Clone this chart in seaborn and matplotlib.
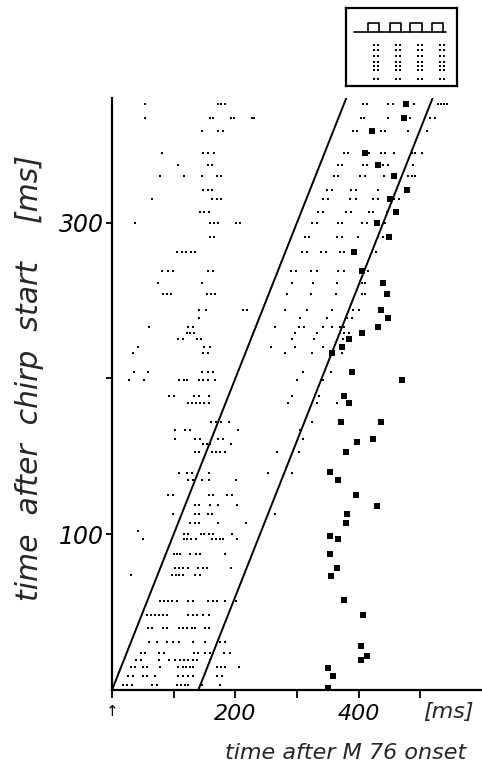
import numpy as np
import pandas as pd
import matplotlib
matplotlib.use("Agg")
import matplotlib.pyplot as plt
import seaborn as sns

# ---------------- data (ms) ----------------
row_times = [376, 367, 359, 345, 337, 330, 321, 315, 307, 300, 291, 281, 269, 261,
             254, 244, 239, 233, 229, 225, 220, 216, 204, 199, 189, 184, 172, 167,
             161, 158, 153, 139, 135, 125, 119, 113, 107, 102, 100, 97, 87, 78, 74,
             57, 48, 40, 31, 24, 19, 15, 9, 3]
row_spikes = [
    [53, 172, 177, 183, 407, 413, 447, 455, 489, 528, 533, 538, 543],
    [53, 159, 164, 193, 198, 227, 230, 403, 408, 447, 484, 515, 523],
    [146, 172, 180, 390, 398, 436, 442, 480, 510],
    [81, 147, 156, 165, 376, 382, 416, 436, 442, 457, 486, 492, 502],
    [107, 156, 162, 366, 373, 407, 413, 439, 447, 488],
    [78, 117, 146, 170, 177, 360, 366, 402, 410, 441, 480, 486, 491],
    [147, 156, 162, 348, 356, 387, 395, 431],
    [65, 162, 170, 177, 342, 350, 386, 395, 423, 431, 458, 465],
    [143, 149, 157, 334, 342, 379, 387, 416, 423, 446],
    [37, 159, 165, 172, 201, 207, 324, 332, 366, 373, 405, 413, 442],
    [159, 165, 313, 319, 365, 373, 399, 431, 439],
    [105, 113, 120, 128, 134, 308, 316, 339, 347, 369, 376, 421, 428],
    [81, 91, 99, 156, 164, 290, 298, 322, 332, 366, 377, 415],
    [75, 146, 292, 326, 365, 405, 410],
    [83, 89, 96, 154, 160, 167, 284, 322, 363, 405, 410],
    [141, 152, 212, 219, 280, 316, 356, 390, 400],
    [141, 305, 348, 381, 389],
    [60, 123, 131, 264, 303, 311, 342, 356, 369, 377],
    [122, 126, 133, 296, 332, 369, 377, 384],
    [107, 115, 138, 144, 292, 327, 374],
    [42, 149, 159, 258, 296, 342, 377],
    [34, 147, 156, 280, 324, 373],
    [36, 58, 146, 156, 164, 309, 355],
    [28, 52, 109, 117, 122, 141, 147, 156, 167, 300, 342],
    [92, 100, 133, 141, 157, 292, 335],
    [123, 130, 136, 143, 149, 157, 285, 332, 365],
    [160, 168, 177, 190, 324],
    [102, 118, 126, 204, 305],
    [102, 134, 143, 172, 180, 309],
    [147, 154, 159, 193],
    [134, 141, 162, 168, 175, 183, 267, 303],
    [109, 122, 130, 157, 253, 292],
    [123, 131, 146, 157, 201],
    [91, 99, 157, 164, 186, 194],
    [134, 141, 159, 172, 203],
    [99, 134, 141, 156, 162, 264],
    [126, 134, 141, 172, 217],
    [42],
    [117, 123, 144, 149, 157, 164, 194],
    [50, 117, 122, 128, 136, 162, 168, 175, 180, 203],
    [100, 105, 110, 126, 136, 143, 183],
    [102, 109, 115, 123, 139, 147, 154, 193],
    [31, 97, 104, 109, 115, 134, 143],
    [78, 84, 91, 97, 105, 123, 131, 156, 164, 170, 183, 201],
    [57, 63, 70, 76, 83, 89, 123, 131, 138, 147, 157],
    [58, 65, 83, 89, 109, 115, 122, 130, 134, 151, 157],
    [60, 73, 89, 99, 109, 131, 151, 175, 183],
    [47, 53, 76, 84, 133, 139, 151, 159, 181, 191],
    [39, 47, 76, 92, 102, 110, 117, 123, 131, 138, 159],
    [31, 37, 50, 57, 78, 107, 115, 120, 126, 131, 170, 177, 183, 206],
    [26, 34, 50, 57, 70, 107, 115, 123, 131, 170, 178],
    [18, 24, 32, 65, 73, 105, 112, 118, 123, 146, 175],
]

# M76 response (large squares)
m76_x = [476, 473, 421, 410, 431, 457, 478, 450, 460, 429, 449, 392, 405, 439, 446,
         436, 447, 431, 405, 384, 373, 356, 389, 471, 376, 384, 371, 436, 423, 397,
         379, 353, 366, 395, 429, 381, 379, 353, 366, 353, 365, 355, 377, 407, 403,
         413, 403, 350, 358, 350]
m76_y = [376, 367, 359, 345, 337, 330, 321, 315, 307, 300, 291, 281, 269, 261, 254,
         244, 239, 233, 229, 225, 220, 216, 204, 199, 189, 184, 172, 172, 161, 159,
         153, 140, 135, 125, 118, 113, 107, 99, 97, 87, 78, 73, 58, 48, 28,
         22, 19, 14, 9, 1]

# chirp band boundaries
band_y = [0, 380]
band_left_x = [0, 380]
band_right_x = [140, 520]

x_ticks = [0, 100, 200, 300, 400, 500]
x_ticklabels = ["\u2191", "", "200", "", "400", ""]
y_ticks = [100, 200, 300]
y_ticklabels = ["100", "", "300"]

# inset (schematic chirp + response), inset units
pulse_start = [22, 44, 64, 86]
pulse_end = [33, 55, 76, 97]
inset_rows = [37, 42, 48, 54, 58, 62, 71]
inset_cols = [30, 52, 74, 96]

# ---------------- plotting ----------------
sns.set_style("ticks")
plt.rcParams["font.family"] = ["DejaVu Sans"]

fig = plt.figure(figsize=(4.82, 7.70), dpi=100)
ax = fig.add_axes([112 / 482, 80 / 770, 370 / 482, 592 / 770])

dots = pd.DataFrame({
    "x": [x for xs in row_spikes for x in xs],
    "y": [t for t, xs in zip(row_times, row_spikes) for _ in xs],
})
sns.scatterplot(data=dots, x="x", y="y", marker="s", s=3, color="black",
                linewidth=0, ax=ax, clip_on=False)
sq = pd.DataFrame({"x": m76_x, "y": m76_y})
sns.scatterplot(data=sq, x="x", y="y", marker="s", s=20, color="black",
                linewidth=0, ax=ax, clip_on=False)
sns.lineplot(x=band_left_x, y=band_y, color="black", lw=1.4, ax=ax,
             sort=False, estimator=None)
sns.lineplot(x=band_right_x, y=band_y, color="black", lw=1.4, ax=ax,
             sort=False, estimator=None)

ax.set_xlim(0, 600)
ax.set_ylim(0, 380)
sns.despine(ax=ax)
for s in ["left", "bottom"]:
    ax.spines[s].set_linewidth(1.6)
    ax.spines[s].set_color("black")

ax.set_xticks(x_ticks)
ax.set_xticklabels(x_ticklabels, style="italic", fontsize=16)
ax.set_yticks(y_ticks)
ax.set_yticklabels(y_ticklabels, style="italic", fontsize=17)
ax.get_xticklabels()[0].set_fontsize(11)
ax.tick_params(axis="x", length=6, width=1.3, pad=4, colors="black")
ax.tick_params(axis="y", length=4.5, width=1.3, pad=1.5, colors="black")

ax.text(545, -0.021, "[ms]", transform=ax.get_xaxis_transform(), ha="center",
        va="top", style="italic", fontsize=16)

ax.set_xlabel("time after M 76 onset", style="italic", fontsize=16)
ax.xaxis.set_label_coords(0.632, -0.09)
ax.set_ylabel("time  after  chirp  start    [ms]", style="italic", fontsize=21.5)
ax.yaxis.set_label_coords(-0.185, 0.527)

# inset
ins = fig.add_axes([346 / 482, 1 - 86 / 770, 111 / 482, 78 / 770])
ins.set_xlim(0, 111)
ins.set_ylim(78, 0)
ins.set_xticks([])
ins.set_yticks([])
for s in ins.spines.values():
    s.set_linewidth(1.6)
    s.set_color("black")
sns.lineplot(x=[8, 100], y=[24, 24], color="black", lw=1.2, ax=ins,
             sort=False, estimator=None)
for a, b in zip(pulse_start, pulse_end):
    sns.lineplot(x=[a, a, b, b], y=[24, 15, 15, 24], color="black", lw=1.2,
                 ax=ins, sort=False, estimator=None)
ix, iy = [], []
for r in inset_rows:
    for c in inset_cols:
        ix += [c - 2, c + 2]
        iy += [r, r]
sns.scatterplot(x=ix, y=iy, marker="s", s=2, color="black", linewidth=0, ax=ins)
ins.set_xlabel("")
ins.set_ylabel("")

fig.savefig("out.png", dpi=100)
